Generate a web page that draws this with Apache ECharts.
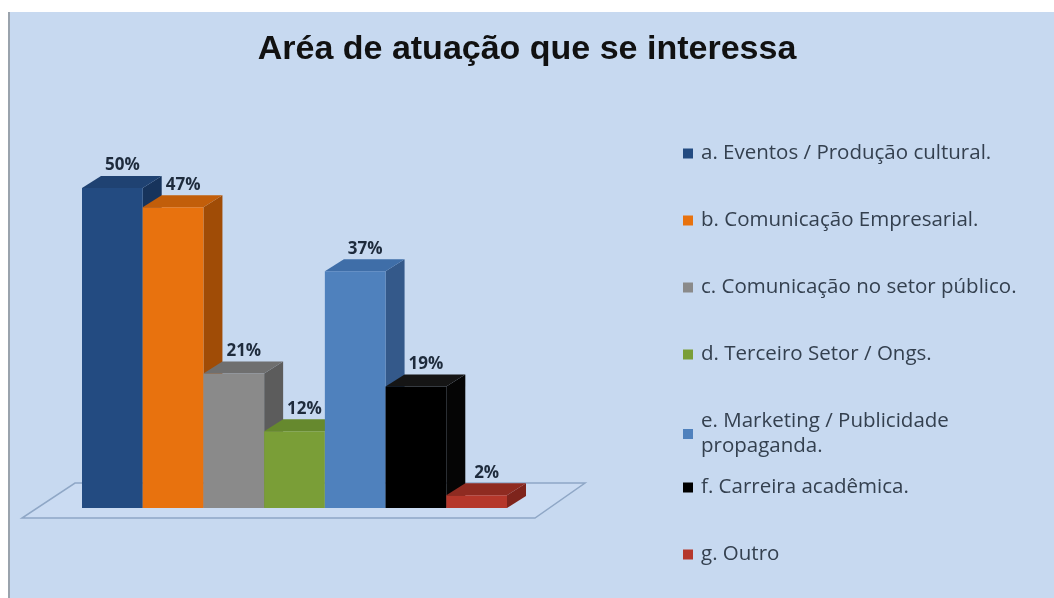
<!DOCTYPE html>
<html>
<head>
<meta charset="utf-8">
<script src="https://cdn.jsdelivr.net/npm/echarts@6/dist/echarts.min.js"></script>
<style>
html,body{margin:0;padding:0;background:#ffffff;}
#c{width:1054px;height:598px;}
</style>
</head>
<body>
<div id="c"></div>
<script>
// ---- data ----
const categories = [
  'a. Eventos / Produção cultural.',
  'b. Comunicação Empresarial.',
  'c. Comunicação no setor público.',
  'd. Terceiro Setor / Ongs.',
  'e. Marketing / Publicidade\npropaganda.',
  'f. Carreira acadêmica.',
  'g. Outro'
];
const values = [50, 47, 21, 12, 37, 19, 2];
const frontColors = ['#234b81', '#e8720e', '#8a8a8a', '#7a9e37', '#4f81bd', '#000000', '#b5372b'];
const sideColors  = ['#17345c', '#a04c06', '#5c5c5c', '#56732a', '#34598a', '#050505', '#7e241c'];
const topColors   = ['#1f4272', '#c25e0a', '#6f6f6f', '#66892e', '#3f6ea8', '#151515', '#8f2b21'];

const DX = 19, DY = 12;

function barRender(idx) {
  return function (params, api) {
    const x = api.value(0), v = api.value(1);
    const top = api.coord([x, v]);
    const base = api.coord([x, 0]);
    const bw = api.size([1, 0])[0];
    const l = top[0] - bw / 2, r = top[0] + bw / 2;
    const t = top[1], b = base[1];
    return {
      type: 'group',
      children: [
        { type: 'polygon', shape: { points: [[r, t], [r + DX, t - DY], [r + DX, b - DY], [r, b]] },
          style: { fill: sideColors[idx] } },
        { type: 'polygon', shape: { points: [[l, t], [l + DX, t - DY], [r + DX, t - DY], [r, t]] },
          style: { fill: topColors[idx] } },
        { type: 'rect', shape: { x: l, y: t, width: bw, height: b - t },
          style: { fill: frontColors[idx] } },
        { type: 'text', x: top[0] + 10, y: t - DY - 2,
          style: { text: v + '%', align: 'center', verticalAlign: 'bottom',
                   font: 'bold 17px "Open Sans", sans-serif', fill: '#1e2b3c' } }
      ]
    };
  };
}

const series = [{
  type: 'custom',
  name: 'floor',
  silent: true,
  z: 1,
  data: [[0, 0]],
  renderItem: function (params, api) {
    const bw = api.size([1, 0])[0];
    const p0 = api.coord([0, 0]);
    const p1 = api.coord([categories.length - 1, 0]);
    const L = p0[0] - bw / 2, R = p1[0] + bw / 2, y = p0[1];
    return {
      type: 'polygon',
      shape: { points: [[L - 60, y + 10], [R + 28, y + 10], [R + 78, y - 25], [L - 7, y - 25]] },
      style: { fill: '#cadbf2', stroke: '#8fa7c6', lineWidth: 1.5 }
    };
  }
}];

categories.forEach(function (name, i) {
  series.push({
    type: 'custom',
    name: name,
    z: 2 + i,
    itemStyle: { color: frontColors[i] },
    data: [[i, values[i]]],
    renderItem: barRender(i)
  });
});

const legendCommon = {
  orient: 'vertical',
  left: 683,
  padding: 0,
  icon: 'rect',
  itemWidth: 10,
  itemHeight: 10,
  itemGap: 42,
  selectedMode: false,
  textStyle: { fontFamily: '"Open Sans", sans-serif', fontSize: 20.5, color: '#34404f', lineHeight: 25, padding: [0, 0, 0, 3] }
};

const option = {
  backgroundColor: '#ffffff',
  animation: false,
  graphic: [{
    type: 'rect', z: -10, silent: true,
    shape: { x: 9, y: 12, width: 1045, height: 586 },
    style: { fill: '#c7d9f0' }
  }, {
    type: 'line', z: -9, silent: true,
    shape: { x1: 9, y1: 12, x2: 9, y2: 598 },
    style: { stroke: '#9aa3ad', lineWidth: 2 }
  }],
  title: {
    text: 'Aréa de atuação que se interessa',
    left: 'center',
    top: 28,
    textStyle: { fontFamily: '"Liberation Sans", Arial, sans-serif', fontSize: 34, fontWeight: 'bold', color: '#111111' }
  },
  legend: [
    Object.assign({}, legendCommon, { top: 141, data: categories.slice(0, 5) }),
    Object.assign({}, legendCommon, { top: 475, data: categories.slice(5) })
  ],
  grid: { left: 82, right: 547, top: 188, bottom: 90 },
  xAxis: { type: 'category', data: categories, show: false },
  yAxis: { type: 'value', min: 0, max: 50, show: false },
  series: series
};

const chart = echarts.init(document.getElementById('c'));
chart.setOption(option);
</script>
</body>
</html>
